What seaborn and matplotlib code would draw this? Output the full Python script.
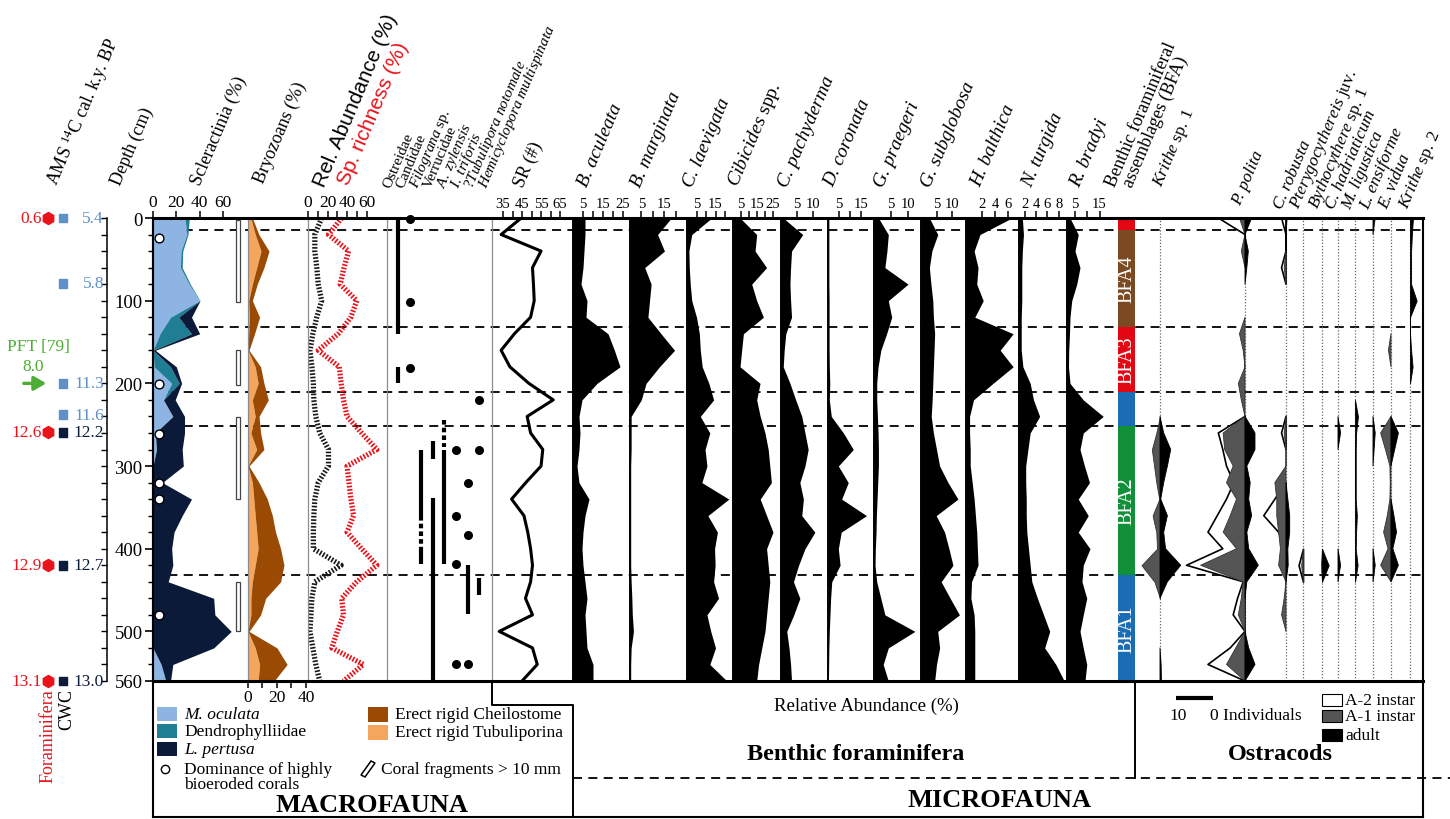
import numpy as np
import matplotlib
matplotlib.use("Agg")
import matplotlib.pyplot as plt
from matplotlib.patches import Rectangle, Polygon
import seaborn as sns

# ------------------------------------------------------------------ data
depth_cm = [0, 20, 40, 60, 80, 100, 120, 140, 160, 180, 200, 220, 240, 260, 280,
            300, 320, 340, 360, 380, 400, 420, 440, 460, 480, 500, 520, 540, 560]

# Scleractinia (%) - stacked
m_oculata = [27.4, 29, 24, 23.5, 31, 40, 15, 6, 0, 1, 16, 9, 17, 2, 3,
             0, 0, 0, 0, 0, 0, 0, 0, 0, 0, 0, 0, 7, 11]
dendrophylliidae = [3.7, 1, 1.5, 1.5, 1, 0.3, 7, 27, 0, 14, 6.5, 0, 0, 0, 0,
                    0, 0, 0, 0, 0, 0, 0, 0, 0, 0, 0, 0, 0, 0]
l_pertusa = [0, 0, 0, 0, 0, 0, 11, 7, 2, 5, 2, 10, 10, 25, 22,
             26, 8, 33, 25, 18, 16, 17, 13, 52, 53, 67, 52, 10, 4]
bioeroded_depth = [24, 201, 261, 320, 340, 480]
fragment_top = [2, 160, 241, 440]
fragment_bottom = [101, 202, 340, 500]

# Bryozoans (%) - stacked
tubuliporina = [2, 5, 9, 6, 3, 0.5, 1, 0.5, 0, 5, 7, 3, 5, 2, 6,
                0, 3, 4, 5, 6, 7, 5, 3, 2, 2, 0, 5, 8, 7]
cheilostome = [1, 2.5, 5.5, 5, 3.4, 2.5, 7, 4, 0.7, 3.7, 4, 11, 2.6, 6.7, 5,
               0.7, 4.6, 9.3, 11.8, 13, 15.5, 19.8, 19.5, 10.2, 6.7, 0.7, 15, 19, 11]

# Macrofauna relative abundance and species richness (%)
rel_abundance = [14, 7, 7, 9, 10.5, 14, 9, 5, 2, 4, 5.5, 6, 8, 12, 21,
                 21, 10.5, 7, 6, 5.5, 5.5, 34, 7, 4, 3, 2, 5, 8, 12]
sp_richness = [34.5, 21, 41.6, 37, 33, 50, 44, 31, 10.5, 32, 34, 36.4, 40, 55, 70.6,
               40, 42, 44, 46.7, 40, 55, 70.6, 50, 34.5, 36.4, 30, 24.4, 56.8, 36.4]

# Macrofauna occurrences (depth ranges and single finds)
macro_taxa = ["Ostreidae", "Candidae", r"$\mathit{Filograna}$ sp.", "Verrucidae",
              r"$\mathit{A.\ zylensis}$", r"$\mathit{I.\ triforis}$",
              r"?$\mathit{Tubulipora\ notomale}$", r"$\mathit{Hemicyclopora\ multispinata}$"]
ostreidae_ranges = [(0, 140), (180, 200)]
candidae_finds = [1, 101, 181]
filograna_ranges = [(280, 360), (398, 419)]
filograna_uncertain = [(360, 398)]
verrucidae_ranges = [(270, 291), (339, 560)]
zylensis_ranges = [(281, 419)]
zylensis_uncertain = [(244, 277)]
triforis_finds = [280, 360, 419, 539]
tubulipora_finds = [320, 384, 539]
tubulipora_ranges = [(420, 479)]
hemicyclopora_finds = [220, 280]
hemicyclopora_ranges = [(436, 456)]

# Benthic foraminifera species richness (#)
species_richness = [44.6, 34, 55, 50.5, 51, 51.4, 49.5, 41, 34, 38.6, 48.6, 61.4, 47.7, 49.5, 55.9,
                    55, 47, 39.5, 46, 48, 49.5, 50.5, 49.5, 46.8, 50.5, 33, 50.5, 53, 45]

# Benthic foraminifera relative abundance (%)
b_aculeata = [6, 6, 5.5, 5, 4, 7, 6.5, 17.5, 20.7, 23.5, 12, 4.5, 3, 3.5, 3,
              2, 3, 8, 6, 5, 4.5, 5, 6, 7, 6, 6.5, 7, 10, 10]
b_marginata = [18, 12, 15, 6.4, 9.2, 8.5, 7.8, 13.5, 19.4, 12.8, 7, 4.9, 0.5, 0.5, 0.5,
               0.3, 0.3, 0.3, 0.3, 0.3, 0.3, 0.3, 0.5, 0.8, 1, 1.5, 0.5, 0.3, 0.3]
c_laevigata = [13, 2.5, 1, 1.2, 1.7, 2.5, 5, 6.5, 7, 8, 11.5, 14, 7, 12, 9.5,
               10.5, 7.8, 22, 11, 16, 14.5, 14.8, 14, 16.6, 10.5, 12.5, 15, 12, 21]
cibicides = [4.4, 14.8, 13.8, 21, 11.7, 14.8, 19, 6.5, 5.4, 4.4, 16.9, 14.8, 17, 20, 22,
             23, 24, 17, 21, 25, 21, 22, 23, 22, 21, 20, 18, 16, 14.8]
c_pachyderma = [0.7, 6.8, 3.3, 3, 2.8, 3, 3.3, 1.5, 1, 0.7, 2.8, 4.6, 6.5, 7.5, 8.5,
                7.5, 5.9, 7, 6.5, 10.6, 7.5, 5.5, 3.9, 5.9, 4, 1.8, 2.5, 3, 3.3]
d_coronata = [0.4, 0.4, 0.4, 0.4, 0.4, 0.5, 0.5, 0.5, 0.5, 0.6, 0.8, 0.6, 1.5, 7, 11.5,
              4.7, 9.2, 6.2, 17.5, 6, 4.7, 5.5, 1.7, 1.2, 0.9, 0.6, 0.4, 0.3, 0.2]
g_praegeri = [1.3, 4.2, 3.8, 3.2, 10, 4.2, 5.2, 3.7, 2, 1.2, 0.8, 0.8, 1, 1.2, 1.3,
              1.3, 1.1, 0.9, 0.7, 0.6, 0.4, 0.3, 0.8, 2, 3.2, 12, 4.2, 2.7, 4.2]
g_subglobosa = [2.7, 5.4, 3.5, 2.7, 3.2, 3.8, 4, 4.4, 4.2, 4, 3.8, 3.6, 3.3, 4, 5,
                6, 8.7, 11.9, 4.9, 7.6, 9, 10.3, 6.5, 9.4, 12.4, 5.4, 6, 5, 4.4]
h_balthica = [6.6, 1.7, 0.8, 1.4, 1.2, 2.2, 0.9, 6.8, 4.8, 6.8, 3.7, 0.7, 0.1, 0.1, 0.2,
              0.2, 0.5, 0.8, 1, 1.2, 1.3, 1.4, 0.4, 0.3, 0.8, 0.9, 0.9, 0.9, 0.9]
n_turgida = [1.5, 1.7, 1.5, 1.4, 1.4, 1.4, 1.3, 1.3, 1.3, 1.6, 2.9, 3.5, 4.6, 2.9, 2.5,
             2.1, 2.1, 2.2, 2.2, 2.3, 2.6, 2.9, 3.2, 4.2, 5.3, 6.4, 5.5, 7.5, 9]
r_bradyi = [3.2, 6.5, 5.2, 7.2, 5.9, 3.9, 3.2, 3, 2.7, 2.6, 3.2, 8.5, 16.5, 8.5, 7.2,
            9, 11, 6.5, 10.5, 6.5, 11.2, 8.5, 8, 9.9, 8.5, 7.2, 8.5, 9.9, 9.2]

# Benthic foraminiferal assemblages
bfa_top = [0, 14, 132, 210, 251, 432]
bfa_bottom = [14, 132, 210, 251, 432, 560]
bfa_name = ["", "BFA4", "BFA3", "", "BFA2", "BFA1"]

# Ostracods (individuals per sample depth)
krithe1_a1 = {260: 1.0, 280: 2.2, 300: 1.6, 320: 1.0, 340: 0.2, 360: 2.0, 380: 1.0,
              400: 0.8, 420: 5.0, 440: 1.5}
krithe1_adult = {260: 1.0, 280: 2.9, 300: 2.0, 320: 1.0, 340: 0.2, 360: 2.0, 380: 1.0,
                 400: 1.5, 420: 5.6, 440: 2.0, 540: 0.3, 560: 0.4}
p_polita_a2 = {0: 7.2, 260: 7.2, 280: 6.0, 300: 5.0, 320: 3.0, 340: 5.0, 360: 7.5,
               380: 10.0, 400: 6.0, 420: 15.8, 440: 0.5, 460: 2.0, 480: 3.2, 520: 4.0, 540: 10.0}
p_polita_a1 = {0: 1.5, 40: 1.0, 140: 1.5, 160: 0.5, 200: 1.8, 220: 1.0, 260: 5.9, 280: 5.5,
               300: 3.2, 320: 5.0, 340: 2.3, 360: 4.0, 380: 5.9, 400: 2.3, 420: 12.0,
               440: 0.5, 460: 1.0, 480: 1.8, 520: 2.5, 540: 5.0}
p_polita_adult = {0: 1.8, 40: 0.9, 60: 0.5, 260: 2.7, 280: 2.7, 300: 0.5, 320: 1.4,
                  340: 1.0, 360: 1.8, 380: 0.5, 400: 1.0, 420: 3.6, 440: 0.5, 520: 1.0, 540: 2.7}
c_robusta_a2 = {0: 1.2, 60: 1.2, 260: 1.2, 340: 3.0, 360: 6.0, 380: 2.0}
c_robusta_a1 = {60: 0.5, 260: 0.5, 320: 3.0, 340: 2.5, 360: 2.5, 380: 2.0, 400: 1.5,
                420: 2.0, 460: 0.5, 480: 1.2}
c_robusta_adult = {0: 0.3, 340: 0.5, 360: 1.0, 380: 1.0, 400: 0.5, 420: 0.6}
pterygocythereis_a2 = {420: 1.2}
pterygocythereis_a1 = {420: 0.5}
bythocythere_a1 = {420: 0.3}
bythocythere_adult = {420: 1.8}
c_hadriaticum_adult = {260: 0.7, 420: 0.7}
m_ligustica_adult = {240: 0.8, 260: 0.3, 280: 0.2, 300: 0.2, 320: 0.2, 340: 0.2,
                     360: 0.5, 380: 0.3, 400: 0.2, 420: 0.7}
l_ensiforme_adult = {0: 0.6, 260: 0.6, 280: 0.3, 420: 0.6}
e_vidua_a1 = {160: 0.7, 260: 2.8, 280: 1.5, 300: 0.3, 320: 0.2, 340: 0.3, 360: 1.0,
              380: 2.0, 400: 0.8, 420: 2.8}
e_vidua_adult = {260: 2.0, 280: 1.0, 360: 0.8, 380: 1.5, 400: 0.5, 420: 2.0}
krithe2_adult = {0: 0.8, 20: 0.5, 40: 0.3, 60: 0.3, 80: 0.3, 100: 1.8, 160: 0.3, 180: 0.7}

# Radiocarbon ages (k.y. BP)
foram_age_depth = [0, 259, 420, 560]
foram_age = ["0.6", "12.6", "12.9", "13.1"]
cwc_age_depth = [0, 79, 200, 238, 259, 420, 560]
cwc_age = ["5.4", "5.8", "11.3", "11.6", "12.2", "12.7", "13.0"]
cwc_dated_taxon = ["M. oculata"] * 4 + ["L. pertusa"] * 3
pft_depth, pft_age, pft_ref = 200, "8.0", "PFT [79]"

# ------------------------------------------------------------------ style
sns.set_theme(style="white")
plt.rcParams.update({
    "font.family": ["Liberation Serif", "DejaVu Serif"],
    "mathtext.fontset": "custom",
    "mathtext.rm": "Liberation Serif",
    "mathtext.it": "Liberation Serif:italic",
    "mathtext.bf": "Liberation Serif:bold",
    "text.color": "black",
    "xtick.color": "black",
    "ytick.color": "black",
    "axes.facecolor": "none",
    "figure.facecolor": "white",
})

C_MOC, C_DEN, C_LPE = "#8db4e2", "#1f7d94", "#0b1a38"
C_CHE, C_TUB = "#9a4a02", "#f4a65e"
C_RED, C_GREEN, C_GRAY = "#e8131b", "#4cae33", "#555555"
C_AGE = {"M. oculata": "#5f90c8", "L. pertusa": "#0c1c3a"}
BFA_COLORS = ["#e30613", "#7b4a22", "#e30613", "#1a6db4", "#119039", "#1a6db4"]

W, H = 1450, 820
TOP, BOT = 219, 682
D = np.array(depth_cm, dtype=float)

fig = plt.figure(figsize=(W / 100, H / 100), dpi=100)


def axes_px(x0, x1, y0=TOP, y1=BOT):
    return fig.add_axes([x0 / W, 1 - y1 / H, (x1 - x0) / W, (y1 - y0) / H])


def panel(x0, x1, xlim):
    ax = axes_px(x0, x1)
    ax.set_xlim(*xlim)
    ax.set_ylim(560, 0)
    ax.set_facecolor("none")
    for s in ax.spines.values():
        s.set_visible(False)
    ax.set_xticks([])
    ax.set_yticks([])
    ax.grid(False)
    return ax


def top_axis(ax, ticks, labels, size):
    ax.set_xticks(ticks)
    ax.set_xticklabels(labels)
    ax.tick_params(axis="x", which="major", top=True, bottom=False, labeltop=True,
                   labelbottom=False, direction="out", length=5, width=1.1,
                   pad=0.5, labelsize=size)


def edge(ax, side, color="#8c8c8c", lw=0.9):
    ax.spines[side].set_visible(True)
    ax.spines[side].set_color(color)
    ax.spines[side].set_linewidth(lw)


# background: assemblage boundaries as dashed lines
bg = panel(153, 1423, (0, 1))
for b in bfa_bottom[:-1]:
    bg.axhline(b, color="black", lw=1.3, ls=(0, (5, 3.5)), zorder=0)

# ---- age axis
ax_age = panel(0, 107, (0, 107))
edge(ax_age, "right", "black", 1.1)
ax_age.yaxis.set_ticks_position("right")
ax_age.set_yticks(depth_cm)
ax_age.tick_params(axis="y", right=True, left=False, labelright=False, labelleft=False,
                   direction="in", length=4, width=1)
ax_age.scatter([48] * len(foram_age_depth), foram_age_depth, marker="h", s=75,
               color=C_RED, clip_on=False, zorder=5)
for d, a in zip(foram_age_depth, foram_age):
    ax_age.text(42, d, a, ha="right", va="center", color=C_RED, fontsize=12.5)
ax_age.scatter([63] * len(cwc_age_depth), cwc_age_depth, marker="s", s=40,
               color=[C_AGE[t] for t in cwc_dated_taxon], clip_on=False, zorder=5)
for d, a, t in zip(cwc_age_depth, cwc_age, cwc_dated_taxon):
    ax_age.text(104, d, a, ha="right", va="center", color=C_AGE[t], fontsize=12.5)
ax_age.annotate("", xy=(49, pft_depth), xytext=(21, pft_depth),
                arrowprops=dict(arrowstyle="-|>,head_length=0.6,head_width=0.35",
                                color=C_GREEN, lw=2.4))
ax_age.text(38, pft_depth - 45, pft_ref, ha="center", va="center", color=C_GREEN, fontsize=12.5)
ax_age.text(33, pft_depth - 21, pft_age, ha="center", va="center", color=C_GREEN, fontsize=12.5)

# ---- Scleractinia
ax = panel(153, 248, (0, 81.4))
c1 = np.array(m_oculata, float)
c2 = c1 + np.array(dendrophylliidae, float)
c3 = c2 + np.array(l_pertusa, float)
ax.fill_betweenx(D, 0, c1, color=C_MOC, lw=0)
ax.fill_betweenx(D, c1, c2, color=C_DEN, lw=0)
ax.fill_betweenx(D, c2, c3, color=C_LPE, lw=0)
ax.scatter([5] * len(bioeroded_depth), bioeroded_depth, s=40, facecolor="white",
           edgecolor="black", lw=1, zorder=5)
ft, fb = np.array(fragment_top), np.array(fragment_bottom)
ax.barh((ft + fb) / 2, 3.0, left=71.2, height=fb - ft, facecolor="white",
        edgecolor="#444444", lw=0.9)
top_axis(ax, [0, 20, 40, 60], ["0", "20", "40", "60"], 12.5)
edge(ax, "left", "black", 1.5)
ax.set_yticks([0, 100, 200, 300, 400, 500, 560])
ax.set_yticklabels(["0", "100", "200", "300", "400", "500", "560"])
ax.set_yticks(depth_cm, minor=True)
ax.tick_params(axis="y", which="major", left=True, direction="out", length=6, width=1.2,
               labelsize=13.5, pad=1.5)
ax.tick_params(axis="y", which="minor", left=True, direction="out", length=3.5, width=1)

# ---- Bryozoans
ax = panel(248, 308, (0, 41.4))
b1 = np.array(tubuliporina, float)
b2 = b1 + np.array(cheilostome, float)
ax.fill_betweenx(D, 0, b1, color=C_TUB, lw=0)
ax.fill_betweenx(D, b1, b2, color=C_CHE, lw=0)
edge(ax, "left")
ax.set_xticks([0, 10, 20, 30, 40])
ax.set_xticklabels(["0", "", "20", "", "40"])
ax.tick_params(axis="x", bottom=True, top=False, labelbottom=True, direction="out",
               length=5, width=1.1, pad=1, labelsize=12.5)

# ---- relative abundance / species richness
ax = panel(308, 387, (0, 81))
ax.plot(rel_abundance, D, color="#1a1a1a", lw=3.8, ls=(0, (0.32, 0.32)), solid_capstyle="butt")
ax.plot(sp_richness, D, color=C_RED, lw=3.8, ls=(0, (0.32, 0.32)), solid_capstyle="butt")
top_axis(ax, [0, 10, 20, 30, 40, 50, 60], ["0", "", "20", "", "40", "", "60"], 12.5)
edge(ax, "left")

# ---- macrofauna occurrences
ax = panel(387, 492, (0.05, 9.1))
edge(ax, "left")
edge(ax, "right")
bar_kw = dict(color="black", lw=3.0, solid_capstyle="butt")
dash_kw = dict(color="black", lw=3.0, ls=(0, (1.1, 0.75)), dash_capstyle="butt")
occurrences = [
    (1, ostreidae_ranges, [], []),
    (2, [], [], candidae_finds),
    (3, filograna_ranges, filograna_uncertain, []),
    (4, verrucidae_ranges, [], []),
    (5, zylensis_ranges, zylensis_uncertain, []),
    (6, [], [], triforis_finds),
    (7, tubulipora_ranges, [], tubulipora_finds),
    (8, hemicyclopora_ranges, [], hemicyclopora_finds),
]
for col, ranges, uncertain, finds in occurrences:
    for t, b in ranges:
        ax.plot([col, col], [t, b], **bar_kw)
    for t, b in uncertain:
        ax.plot([col, col], [t, b], **dash_kw)
    if finds:
        ax.scatter([col] * len(finds), finds, s=30, color="black", clip_on=False, zorder=5)

# ---- species richness of foraminifera
ax = panel(492, 573, (29.2, 71.8))
sns.lineplot(x=species_richness, y=depth_cm, orient="y", color="black", lw=2.2, ax=ax)
ax.set_xlim(29.2, 71.8)
ax.set_ylim(560, 0)
ax.set_xlabel("")
ax.set_ylabel("")
ax.set_yticks([])
top_axis(ax, [35, 40, 45, 50, 55, 60, 65], ["35", "", "45", "", "55", "", "65"], 10.5)

# ---- foraminifera profiles
foram_panels = [
    (b_aculeata, 573, 630, (0, 28.5), [5, 10, 15, 20, 25], ["5", "", "15", "", "25"]),
    (b_marginata, 630, 687, (0, 24.8), [5, 10, 15, 20], ["5", "", "15", ""]),
    (c_laevigata, 687, 733, (0, 24.2), [5, 10, 15, 20], ["5", "", "15", ""]),
    (cibicides, 733, 781, (0, 30), [5, 10, 15, 20, 25], ["5", "", "15", "", "25"]),
    (c_pachyderma, 781, 828, (0, 14.7), [5, 10], ["5", "10"]),
    (d_coronata, 828, 874, (0, 20.9), [5, 10, 15], ["5", "", "15"]),
    (g_praegeri, 874, 921, (0, 13.8), [5, 10], ["5", "10"]),
    (g_subglobosa, 921, 966, (0, 14.5), [5, 10], ["5", "10"]),
    (h_balthica, 966, 1019, (-0.45, 7.7), [2, 4, 6], ["2", "4", "6"]),
    (n_turgida, 1019, 1067, (0.9, 9.5), [2, 4, 6, 8], ["2", "4", "6", "8"]),
    (r_bradyi, 1067, 1118, (2.0, 22.4), [5, 10, 15], ["5", "", "15"]),
]
for vals, x0, x1, xlim, ticks, labels in foram_panels:
    ax = panel(x0, x1, xlim)
    ax.fill_betweenx(D, xlim[0], vals, color="black", lw=0)
    edge(ax, "left", "black", 1.4)
    top_axis(ax, ticks, labels, 10.5)

# ---- assemblage column
ax = panel(1118, 1135, (0, 1))
bt, bb = np.array(bfa_top), np.array(bfa_bottom)
ax.barh((bt + bb) / 2, 1, left=0, height=bb - bt, color=BFA_COLORS, lw=0, zorder=3)
for t, b, name in zip(bfa_top, bfa_bottom, bfa_name):
    if name:
        ax.text(0.52, (t + b) / 2, name, rotation=90, ha="center", va="center",
                color="white", fontsize=14.5, zorder=4)

# ---- ostracods (kite diagrams, widths in individuals)
OST_PX = 3.7  # pixels per individual
ax = panel(1135, 1423, (0, (1423 - 1135) / OST_PX))
ost_baseline_px = [1160, 1245, 1286, 1303, 1322, 1338, 1355, 1373, 1391, 1410]
ostracods = [
    ({}, krithe1_a1, krithe1_adult),
    (p_polita_a2, p_polita_a1, p_polita_adult),
    (c_robusta_a2, c_robusta_a1, c_robusta_adult),
    (pterygocythereis_a2, pterygocythereis_a1, {}),
    ({}, bythocythere_a1, bythocythere_adult),
    ({}, {}, c_hadriaticum_adult),
    ({}, {}, m_ligustica_adult),
    ({}, {}, l_ensiforme_adult),
    ({}, e_vidua_a1, e_vidua_adult),
    ({}, {}, krithe2_adult),
]


def expand(d):
    return np.array([d.get(z, 0.0) for z in depth_cm], dtype=float)


def kite(ax, base, counts, side, **kw):
    v = expand(counts)
    if not v.any():
        return
    m = v > 0
    where = m | np.r_[m[1:], False] | np.r_[False, m[:-1]]
    ax.fill_betweenx(D, base, base + side * v, where=where, **kw)


for bpx, (a2, a1, ad) in zip(ost_baseline_px, ostracods):
    base = (bpx - 1135) / OST_PX
    ax.axvline(base, color="#666666", lw=0.9, ls=(0, (1, 1.5)), zorder=1)
    kite(ax, base, a2, -1, facecolor="white", edgecolor="black", lw=1.2, zorder=3)
    kite(ax, base, a1, -1, facecolor=C_GRAY, edgecolor="#333333", lw=0.6, zorder=4)
    kite(ax, base, ad, +1, facecolor="black", edgecolor="black", lw=0.6, zorder=4)

# ------------------------------------------------------------------ frame, headers, legends
ann = fig.add_axes([0, 0, 1, 1], zorder=10)
ann.set_xlim(0, W)
ann.set_ylim(H, 0)
ann.axis("off")


def line(xs, ys, lw=1.4, **kw):
    ann.plot(xs, ys, color="black", lw=lw, solid_capstyle="projecting", **kw)


line([153, 1423], [TOP, TOP], lw=2.2)
line([153, 1423], [BOT, BOT], lw=2.2)
line([1423, 1423], [TOP, 818], lw=1.5)
line([153, 153], [TOP, 818], lw=1.5)
line([153, 1423], [818, 818], lw=1.5)
line([492, 492, 573, 573], [BOT, 706, 706, 818], lw=1.4)
line([1135, 1135], [BOT, 779], lw=1.4)
line([573, 1450], [779, 779], lw=1.3, ls=(0, (5, 3.5)))

ROT = 67
hdr = dict(rotation=ROT, rotation_mode="anchor", ha="left", va="baseline")
ann.text(57, 187, r"AMS ${}^{14}$C cal. k.y. BP", fontsize=13, **hdr)
ann.text(120, 186, "Depth (cm)", fontsize=13, **hdr)
ann.text(200, 186, "Scleractinia (%)", fontsize=13, **hdr)
ann.text(263, 184, "Bryozoans (%)", fontsize=13, **hdr)
ann.text(324, 188, "Rel. Abundance (%)", fontsize=15, family="Liberation Sans", **hdr)
ann.text(348, 186, "Sp. richness (%)", fontsize=15, family="Liberation Sans", color=C_RED, **hdr)
for i, name in enumerate(macro_taxa):
    ann.text(390 + 13.7 * i, 189, name, fontsize=11, **hdr)
ann.text(523, 188, "SR (#)", fontsize=13, **hdr)

foram_names = [("B. aculeata", 587), ("B. marginata", 640), ("C. laevigata", 692),
               (r"$\mathit{Cibicides}$ spp.", 737), ("C. pachyderma", 787),
               ("D. coronata", 833), ("G. praegeri", 883), ("G. subglobosa", 930),
               ("H. balthica", 980), ("N. turgida", 1031), ("R. bradyi", 1079)]
for name, x in foram_names:
    style = "normal" if "$" in name else "italic"
    ann.text(x, 188, name, fontsize=14, style=style, **hdr)
ann.text(1115, 188, "Benthic foraminiferal", fontsize=13, **hdr)
ann.text(1132, 188, "assemblages (BFA)", fontsize=13, **hdr)

ost_names = [(r"$\mathit{Krithe}$ sp. 1", 1161, 188), ("P. polita", 1240, 206),
             ("C. robusta", 1282, 210), (r"$\mathit{Pterygocythereis}$ juv.", 1298, 210),
             (r"$\mathit{Bythocythere}$ sp. 1", 1317, 210), ("C. hadriaticum", 1334, 210),
             ("M. ligustica", 1351, 210), ("L. ensiforme", 1369, 210),
             ("E. vidua", 1387, 210), (r"$\mathit{Krithe}$ sp. 2", 1407, 210)]
for name, x, y in ost_names:
    style = "normal" if "$" in name else "italic"
    ann.text(x, y, name, fontsize=12.5, style=style, **hdr)

# dating material labels
ann.text(48, 689, "Foraminifera", rotation=90, ha="center", va="top", color=C_RED, fontsize=13)
ann.text(67, 689, "CWC", rotation=90, ha="center", va="top", color="black", fontsize=13)

# macrofauna legend
leg = dict(fontsize=12.5, va="center")
for y, col, label, st in [(715, C_MOC, "M. oculata", "italic"),
                          (732, C_DEN, "Dendrophylliidae", "normal"),
                          (750, C_LPE, "L. pertusa", "italic")]:
    ann.add_patch(Rectangle((157, y - 7), 20, 14, facecolor=col, edgecolor="none"))
    ann.text(184, y, label, style=st, **leg)
ann.scatter([165], [770], s=36, facecolor="white", edgecolor="black", lw=1, zorder=5)
ann.text(184, 770, "Dominance of highly", **leg)
ann.text(184, 785, "bioeroded corals", **leg)
for y, col, label in [(715, C_CHE, "Erect rigid Cheilostome"),
                      (733, C_TUB, "Erect rigid Tubuliporina")]:
    ann.add_patch(Rectangle((368, y - 7.5), 20, 15, facecolor=col, edgecolor="none"))
    ann.text(395, y, label, **leg)
ann.add_patch(Polygon([(361, 776), (371, 762), (375, 764), (365, 778)], closed=True,
                      facecolor="white", edgecolor="black", lw=1.1))
ann.text(381, 770, "Coral fragments > 10 mm", **leg)
ann.text(372, 806, "MACROFAUNA", fontsize=19, weight="bold", ha="center", va="center")

# microfauna labels
ann.text(866, 706, "Relative Abundance (%)", fontsize=13.5, ha="center", va="center")
ann.text(856, 755, "Benthic foraminifera", fontsize=17.5, weight="bold", ha="center", va="center")
ann.text(1280, 755, "Ostracods", fontsize=17.5, weight="bold", ha="center", va="center")
ann.text(1000, 801, "MICROFAUNA", fontsize=19, weight="bold", ha="center", va="center")

# ostracod legend
bar_right = 1213
ann.plot([bar_right - 10 * OST_PX, bar_right], [699, 699], color="black", lw=3,
         solid_capstyle="butt")
ann.text(1178, 716, "10", fontsize=12.5, ha="center", va="center")
ann.text(1210, 716, "0 Individuals", fontsize=12.5, ha="left", va="center")
for y, fc, label in [(701, "white", "A-2 instar"), (717, C_GRAY, "A-1 instar"),
                     (736, "black", "adult")]:
    ann.add_patch(Rectangle((1322, y - 6), 20, 12, facecolor=fc, edgecolor="black", lw=0.8))
    ann.text(1345, y, label, fontsize=12.5, va="center")

fig.savefig("out.png", dpi=100)
